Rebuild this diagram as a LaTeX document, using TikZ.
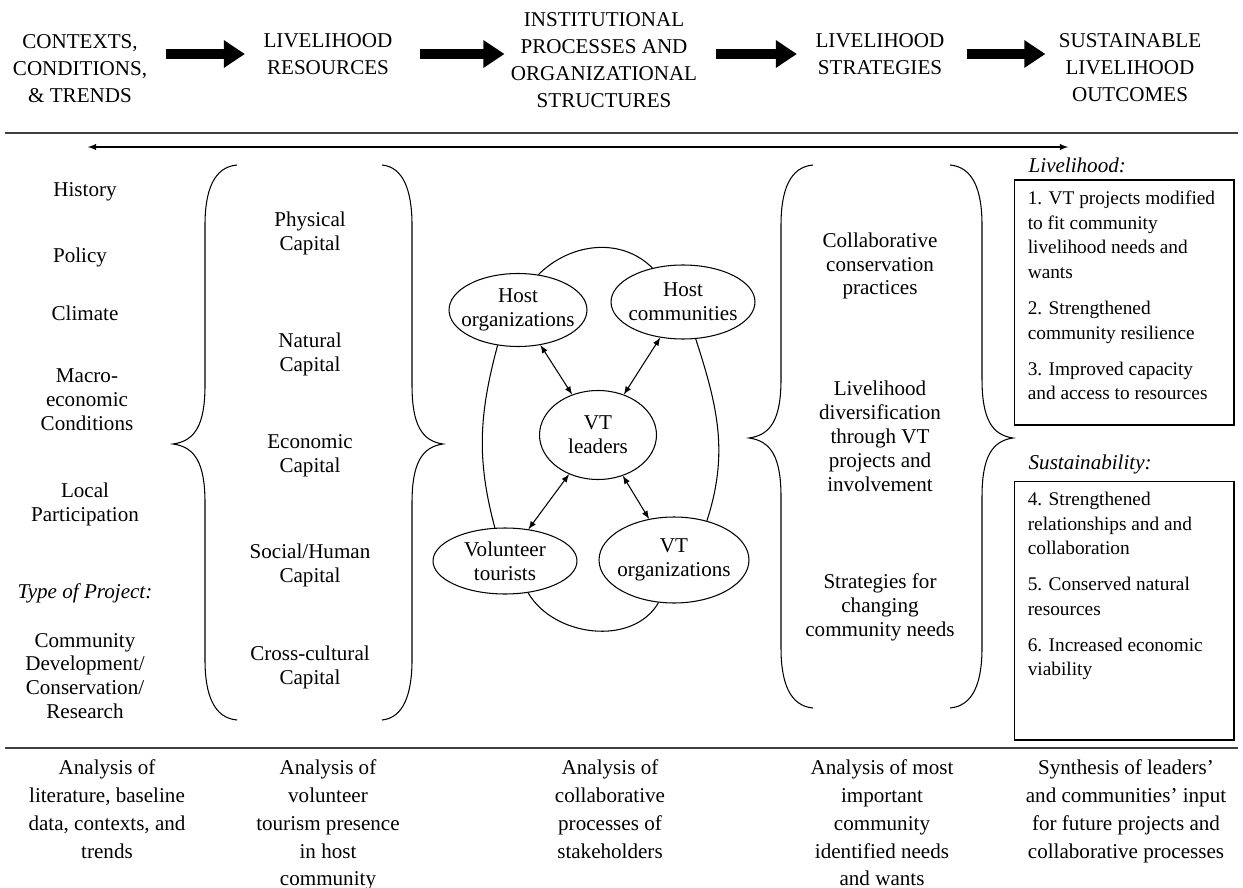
\documentclass[tikz,border=0pt]{standalone}
\usepackage{fontspec}
\setmainfont{Liberation Serif}
\usetikzlibrary{shapes, arrows.meta, positioning}
\tikzstyle{every node}=[font=\fontsize{12}{13.6}\selectfont, align=center]
\tikzstyle{head}=[font=\fontsize{12}{15.3}\selectfont]
\tikzstyle{foot}=[font=\fontsize{12}{15.9}\selectfont, anchor=north]
\tikzstyle{slanted}=[font=\fontsize{12}{13.6}\selectfont\itshape]
\tikzstyle{actor}=[draw, ellipse, inner xsep=-8pt, inner ysep=0pt]
\tikzstyle{outbox}=[draw, rectangle, minimum width=4.4cm]
\tikzstyle{items}=[font=\fontsize{11}{14}\selectfont, align=left]
\tikzstyle{bigarrow}=[line width=5.5pt, -{Triangle[length=12pt,width=15pt]}]
\tikzstyle{rule}=[line width=1.1pt, black!75]

\begin{document}
\begin{tikzpicture}[x=0.02cm, y=0.02cm, >=latex, semithick]
    \useasboundingbox (0,0) rectangle (1243,-888);

    % headings
    \node[head] (ctx) at (80,-69) {CONTEXTS,\\CONDITIONS,\\\& TRENDS};
    \node[head] (res) at (328,-54) {LIVELIHOOD\\RESOURCES};
    \node[head] (inst) at (604,-60) {INSTITUTIONAL\\PROCESSES AND\\ORGANIZATIONAL\\STRUCTURES};
    \node[head] (strat) at (880,-54) {LIVELIHOOD\\STRATEGIES};
    \node[head] (outc) at (1130,-68) {SUSTAINABLE\\LIVELIHOOD\\OUTCOMES};
    \draw[bigarrow, shorten <=7pt, shorten >=7pt] (ctx.east |- res.east) -- (res.west);
    \draw[bigarrow, shorten <=12pt, shorten >=0pt] (res.east) -- (inst.west |- res.east);
    \draw[bigarrow, shorten <=7pt, shorten >=7pt] (inst.east |- strat.west) -- (strat.west);
    \draw[bigarrow, shorten <=9pt, shorten >=4pt] (strat.east) -- (outc.west |- strat.east);

    \draw[rule] (5,-133) -- (1238,-133);
    \coordinate (spanL) at (88,-147);
    \coordinate (spanR) at (1068,-147);
    \draw[<->] (spanL) -- (spanR);

    % contexts
    \node (hist) at (85,-192) {History};
    \node (pol) at (80,-257) {Policy};
    \node (clim) at (85,-313) {Climate};
    \node (macro) at (87,-400) {Macro-\\economic\\Conditions};
    \node (local) at (85,-504) {Local\\Participation};
    \node[slanted] (ptype) at (85,-593) {Type of Project:};
    \node (pkind) at (85,-676) {Community\\Development/\\Conservation/\\Research};

    % braces
    \draw (237,-165) .. controls (214,-167) and (205,-190) .. (205,-225) -- (205,-385)
        .. controls (205,-425) and (195,-441) .. (173,-444) .. controls (195,-447) and (205,-463) .. (205,-503)
        -- (205,-660) .. controls (205,-695) and (214,-718) .. (237,-720);
    \draw (382,-165) .. controls (403,-167) and (412,-190) .. (412,-225) -- (412,-385)
        .. controls (412,-425) and (422,-441) .. (443,-444) .. controls (422,-447) and (412,-463) .. (412,-503)
        -- (412,-660) .. controls (412,-695) and (403,-718) .. (382,-720);
    \draw (813,-165) .. controls (790,-167) and (781,-190) .. (781,-225) -- (781,-379)
        .. controls (781,-419) and (771,-435) .. (749,-438) .. controls (771,-441) and (781,-457) .. (781,-497)
        -- (781,-648) .. controls (781,-683) and (790,-706) .. (813,-708);
    \draw (950,-165) .. controls (973,-167) and (982,-190) .. (982,-225) -- (982,-379)
        .. controls (982,-419) and (992,-435) .. (1013,-438) .. controls (992,-441) and (982,-457) .. (982,-497)
        -- (982,-648) .. controls (982,-683) and (973,-706) .. (950,-708);

    % resources
    \node (phys) at (310,-233) {Physical\\Capital};
    \node (nat) at (310,-354) {Natural\\Capital};
    \node (econ) at (310,-456) {Economic\\Capital};
    \node (soc) at (310,-565) {Social/Human\\Capital};
    \node (cross) at (310,-667) {Cross-cultural\\Capital};

    % stakeholders
    \node[actor, minimum width=2.76cm, minimum height=1.46cm] (hostorg) at (518,-310) {Host\\organizations};
    \node[actor, minimum width=2.88cm, minimum height=1.48cm] (hostcom) at (683,-302) {Host\\communities};
    \node[actor, minimum width=2.34cm, minimum height=1.78cm] (vtlead) at (598,-435) {VT\\leaders};
    \node[actor, minimum width=2.88cm, minimum height=1.32cm] (voltour) at (505,-561) {Volunteer\\tourists};
    \node[actor, minimum width=3.0cm, minimum height=1.72cm] (vtorg) at (674,-560) {VT\\organizations};
    \draw (hostorg.60) to[out=45, in=135] (hostcom.132);
    \draw (hostorg.240) to[out=255, in=105] (voltour.107);
    \draw (hostcom.289) to[out=288, in=72] (vtorg.50);
    \draw (voltour.306) to[out=300, in=240] (vtorg.250);
    \draw[<->] (hostorg) -- (vtlead);
    \draw[<->] (hostcom) -- (vtlead);
    \draw[<->] (vtlead) -- (voltour);
    \draw[<->] (vtlead) -- (vtorg);

    % strategies
    \node (collab) at (880,-266) {Collaborative\\conservation\\practices};
    \node (divers) at (880,-436) {Livelihood\\diversification\\through VT\\projects and\\involvement};
    \node (chg) at (880,-607) {Strategies for\\changing\\community needs};

    % outcomes
    \node[outbox, minimum height=4.9cm] (livbox) at (1124,-302.5) {};
    \node[slanted, above right=0pt and 5pt of livbox.north west] (livlab) {Livelihood:};
    \node[items, below right=3pt and 4.5pt of livbox.north west] (livtxt)
        {1. VT projects modified\\to fit community\\livelihood needs and\\wants\\[6.5pt]
         2. Strengthened\\community resilience\\[6.5pt]
         3. Improved capacity\\and access to resources};
    \node[outbox, minimum height=5.18cm] (sustbox) at (1124,-610.5) {};
    \node[slanted, above right=0pt and 5pt of sustbox.north west] (sustlab) {Sustainability:};
    \node[items, below right=3pt and 4.5pt of sustbox.north west] (susttxt)
        {4. Strengthened\\relationships and and\\collaboration\\[6.5pt]
         5. Conserved natural\\resources\\[6.5pt]
         6. Increased economic\\viability};

    \draw[rule] (5,-748) -- (1238,-748);

    % analysis
    \node[foot] (note1) at (107,-753) {Analysis of\\literature, baseline\\data, contexts, and\\trends};
    \node[foot] (note2) at (328,-753) {Analysis of\\volunteer\\tourism presence\\in host\\community};
    \node[foot] (note3) at (610,-753) {Analysis of\\collaborative\\processes of\\stakeholders};
    \node[foot] (note4) at (882,-753) {Analysis of most\\important\\community\\identified needs\\and wants};
    \node[foot] (note5) at (1126,-753) {Synthesis of leaders'\\and communities' input\\for future projects and\\collaborative processes};
\end{tikzpicture}
\end{document}
